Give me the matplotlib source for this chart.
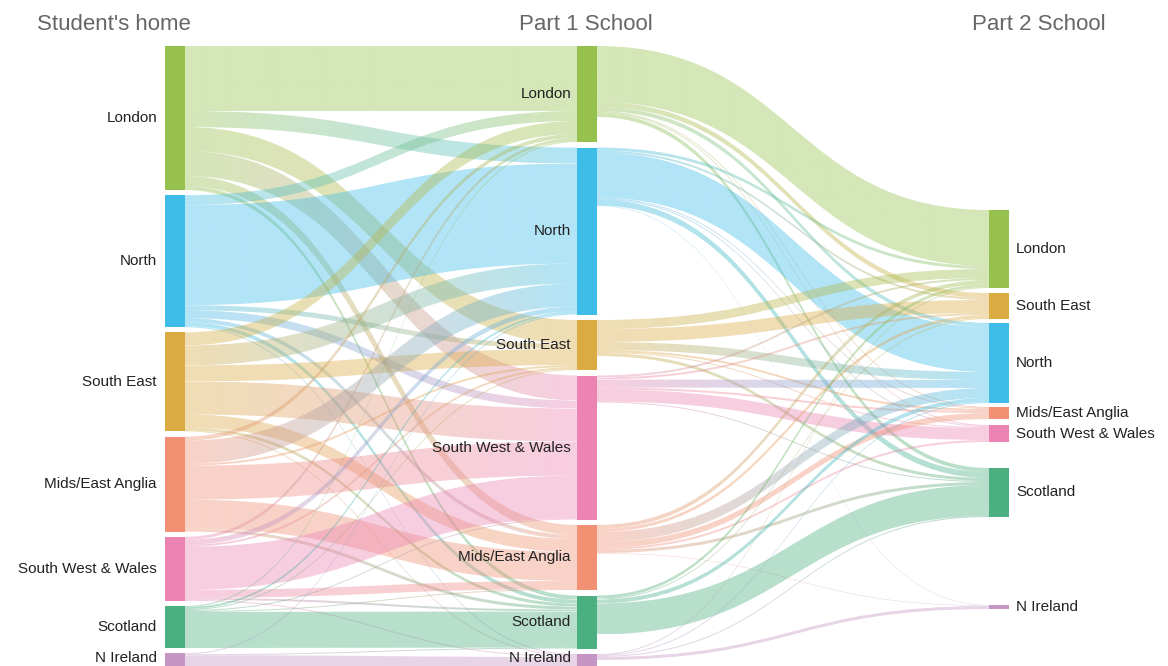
import numpy as np
import matplotlib
matplotlib.use("Agg")
import matplotlib.pyplot as plt
from matplotlib.path import Path
from matplotlib.patches import PathPatch, Rectangle
from matplotlib.colors import to_rgb

# ---------------- data ----------------
home_nodes = ["London", "North", "South East", "Mids/East Anglia",
              "South West & Wales", "Scotland", "N Ireland"]
part1_nodes = ["London", "North", "South East", "South West & Wales",
               "Mids/East Anglia", "Scotland", "N Ireland"]
part2_nodes = ["London", "South East", "North", "Mids/East Anglia",
               "South West & Wales", "Scotland", "N Ireland"]

# students: home region (rows, home_nodes order) -> Part 1 school (cols, part1_nodes order)
home_to_part1 = [
    [65, 16, 24, 25, 10, 4, 0],     # London
    [10, 100, 5, 8, 4, 4, 1],       # North
    [13, 20, 16, 33, 13, 3, 1],     # South East
    [4, 23, 2, 34, 29, 3, 0],       # Mids/East Anglia
    [3, 5, 2, 43, 8, 2, 1],         # South West & Wales
    [1, 2, 1, 1, 1, 36, 0],         # Scotland
    [0, 1, 0, 0, 0, 1, 12],         # N Ireland
]

# Part 1 school (rows, part1_nodes order) -> Part 2 school (cols, part2_nodes order)
part1_to_part2 = [
    [56, 5, 4, 1, 1, 4, 0],         # London
    [3, 2, 45, 1, 1, 6, 0.5],       # North
    [9, 13, 8, 2, 1, 3, 0],         # South East
    [2, 2, 8, 2, 12, 1, 0],         # South West & Wales
    [4, 3, 10, 6, 2, 3, 0.5],       # Mids/East Anglia
    [3, 1, 4, 0, 0, 31, 0],         # Scotland
    [1, 0, 1, 0, 0, 1, 3],          # N Ireland
]

column_titles = ["Student's home", "Part 1 School", "Part 2 School"]

# ---------------- style / layout ----------------
region_colors = {
    "London": "#96c14e",
    "North": "#3ebde9",
    "South East": "#dbab43",
    "Mids/East Anglia": "#f29073",
    "South West & Wales": "#ec84b3",
    "Scotland": "#4caf80",
    "N Ireland": "#c596c3",
}
W, H = 1168, 666
node_w = 20
col_x = [165, 577, 989]
top = 46
gap_left = 5.2
gap_mid = 5.5
right_gaps = [164, 5, 4, 4, 6, 26, 88]
link_alpha = 0.4

plt.rcParams['font.family'] = ['Liberation Sans', 'DejaVu Sans']
fig = plt.figure(figsize=(W / 100, H / 100), dpi=100)
ax = fig.add_axes([0, 0, 1, 1])
ax.set_xlim(0, W)
ax.set_ylim(H, 0)
ax.axis('off')

M1 = np.array(home_to_part1, dtype=float)
M2 = np.array(part1_to_part2, dtype=float)

h_left = M1.sum(axis=1)
h_mid = np.maximum(M1.sum(axis=0), M2.sum(axis=1))
h_right = M2.sum(axis=0)


def stack(heights, gap):
    ys, y = [], top
    for h in heights:
        ys.append(y)
        y += h + gap
    return np.array(ys)


y_left = stack(h_left, gap_left)
y_mid = stack(h_mid, gap_mid)
y_right = []
y = top
for g, h in zip(right_gaps, h_right):
    y += g
    y_right.append(y)
    y += h
y_right = np.array(y_right)


def draw_link(x0, x1, s0, s1, t0, t1, c0, c1):
    xm = (x0 + x1) / 2
    verts = [(x0, s0), (xm, s0), (xm, t0), (x1, t0),
             (x1, t1), (xm, t1), (xm, s1), (x0, s1), (x0, s0)]
    codes = [Path.MOVETO, Path.CURVE4, Path.CURVE4, Path.CURVE4,
             Path.LINETO, Path.CURVE4, Path.CURVE4, Path.CURVE4, Path.CLOSEPOLY]
    path = Path(verts, codes)
    patch = PathPatch(path, facecolor='none', edgecolor='none', transform=ax.transData)
    ca, cb = np.array(to_rgb(c0)), np.array(to_rgb(c1))
    t = np.linspace(0, 1, 128)[None, :, None]
    rgb = ca[None, None, :] * (1 - t) + cb[None, None, :] * t
    img = np.concatenate([rgb, np.full((1, 128, 1), link_alpha)], axis=2)
    ymin, ymax = min(s0, t0), max(s1, t1)
    im = ax.imshow(img, extent=[x0, x1, ymax, ymin], aspect='auto',
                   interpolation='bilinear', zorder=1)
    im.set_clip_path(patch)


def draw_links(M, src_names, dst_names, ys, yd, xs, xd):
    in_start = {}
    for j in range(len(dst_names)):
        acc = 0.0
        for i in range(len(src_names)):
            in_start[(i, j)] = acc
            acc += M[i, j]
    for i in range(len(src_names)):
        acc = 0.0
        for j in range(len(dst_names)):
            v = M[i, j]
            if v <= 0:
                continue
            s0 = ys[i] + acc
            t0 = yd[j] + in_start[(i, j)]
            draw_link(xs, xd, s0, s0 + v, t0, t0 + v,
                      region_colors[src_names[i]], region_colors[dst_names[j]])
            acc += v


draw_links(M1, home_nodes, part1_nodes, y_left, y_mid,
           col_x[0] + node_w, col_x[1])
draw_links(M2, part1_nodes, part2_nodes, y_mid, y_right,
           col_x[1] + node_w, col_x[2])

for names, ys, hs, cx in [(home_nodes, y_left, h_left, col_x[0]),
                          (part1_nodes, y_mid, h_mid, col_x[1]),
                          (part2_nodes, y_right, h_right, col_x[2])]:
    for n, y0, h in zip(names, ys, hs):
        ax.add_patch(Rectangle((cx, y0), node_w, h, facecolor=region_colors[n],
                               edgecolor='none', zorder=5))

label_kw = dict(fontsize=11, color='#222222', va='center')


def label_y(y0, h):
    return min(y0 + h / 2, H - 8)


for n, y0, h in zip(home_nodes, y_left, h_left):
    ax.text(col_x[0] - 8, label_y(y0, h), n, ha='right', zorder=6, **label_kw)
for n, y0, h in zip(part1_nodes, y_mid, h_mid):
    ax.text(col_x[1] - 6, label_y(y0, h), n, ha='right', zorder=4, **label_kw)
for n, y0, h in zip(part2_nodes, y_right, h_right):
    ax.text(col_x[2] + node_w + 7, label_y(y0, h), n, ha='left', zorder=6, **label_kw)

title_kw = dict(fontsize=16, color='#666666', va='center')
ax.text(114, 25, column_titles[0], ha='center', **title_kw)
ax.text(586, 25, column_titles[1], ha='center', **title_kw)
ax.text(1039, 25, column_titles[2], ha='center', **title_kw)

fig.savefig("out.png", dpi=100)
